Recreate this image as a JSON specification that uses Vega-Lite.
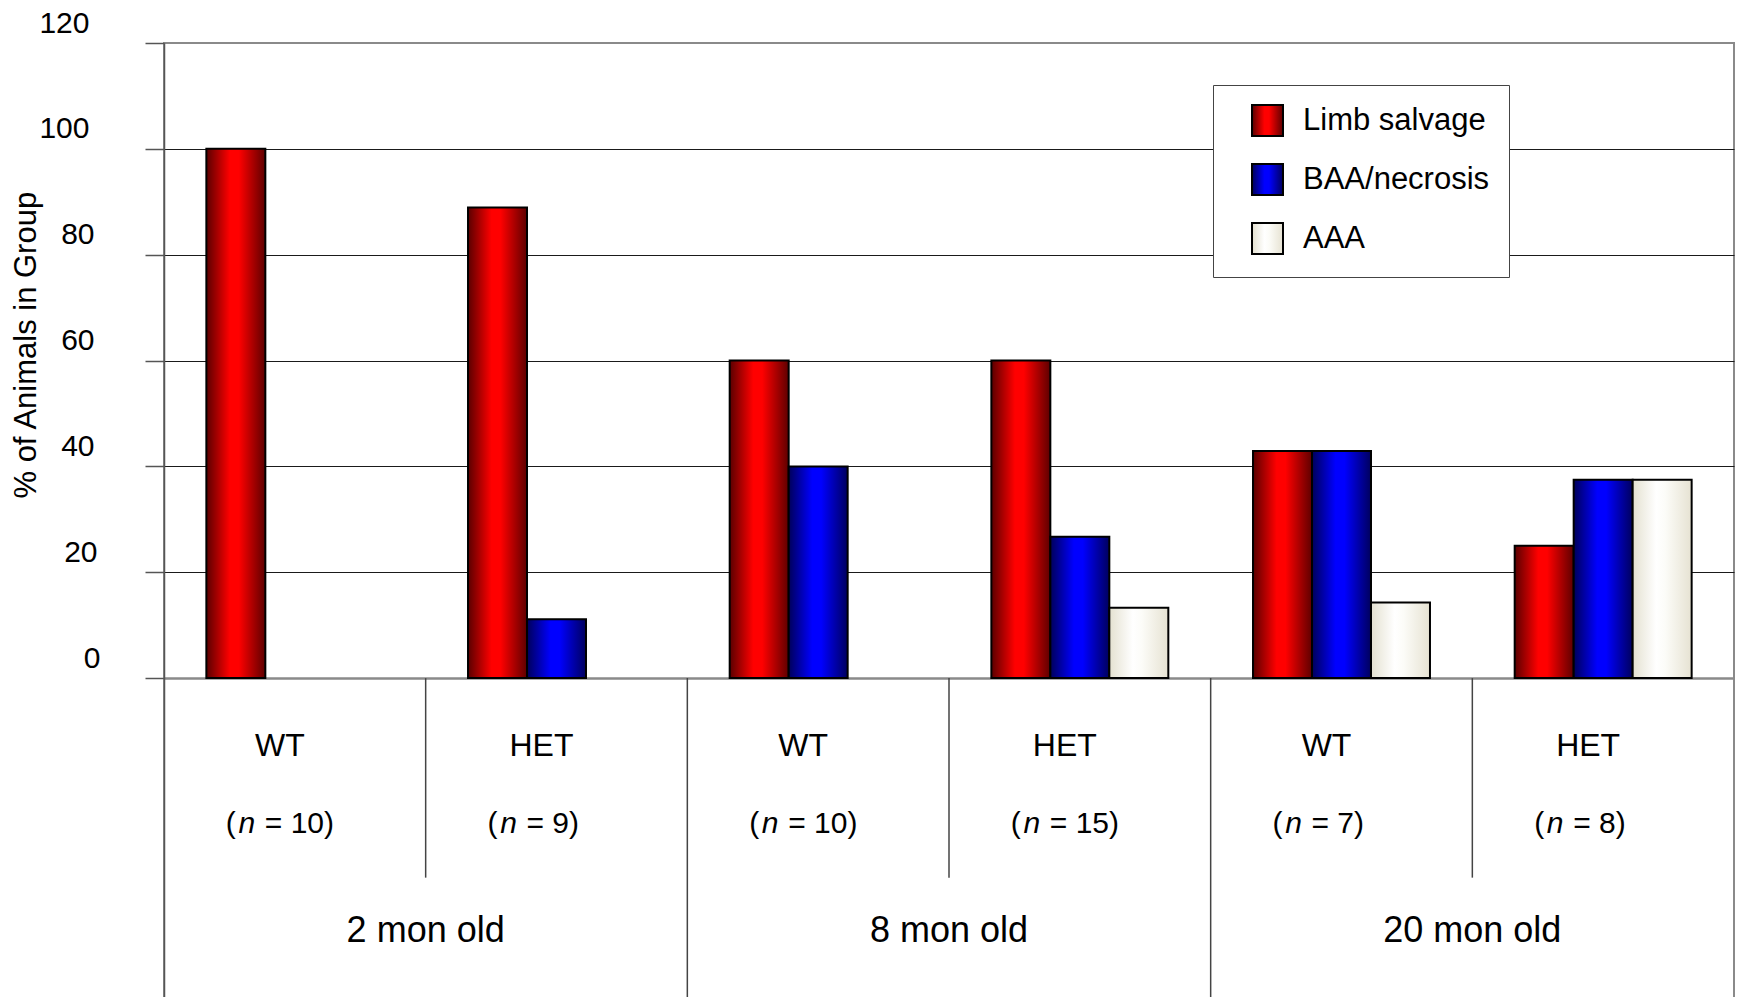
{
  "$schema": "https://vega.github.io/schema/vega-lite/v6.json",
  "width": 1570,
  "height": 955,
  "autosize": {"type": "none"},
  "padding": {"left": 164, "top": 43, "right": 4, "bottom": 0},
  "background": "white",
  "config": {
    "font": "Liberation Sans",
    "view": {"stroke": "#8a8a8a", "strokeWidth": 2},
    "text": {"font": "Liberation Sans", "color": "black"}
  },
  "datasets": {
    "bars": [
      {"cat": "2 WT", "series": "Limb salvage", "pct": 100},
      {"cat": "2 HET", "series": "Limb salvage", "pct": 88.9},
      {"cat": "2 HET", "series": "BAA/necrosis", "pct": 11.1},
      {"cat": "8 WT", "series": "Limb salvage", "pct": 60},
      {"cat": "8 WT", "series": "BAA/necrosis", "pct": 40},
      {"cat": "8 HET", "series": "Limb salvage", "pct": 60},
      {"cat": "8 HET", "series": "BAA/necrosis", "pct": 26.7},
      {"cat": "8 HET", "series": "AAA", "pct": 13.3},
      {"cat": "20 WT", "series": "Limb salvage", "pct": 42.9},
      {"cat": "20 WT", "series": "BAA/necrosis", "pct": 42.9},
      {"cat": "20 WT", "series": "AAA", "pct": 14.3},
      {"cat": "20 HET", "series": "Limb salvage", "pct": 25},
      {"cat": "20 HET", "series": "BAA/necrosis", "pct": 37.5},
      {"cat": "20 HET", "series": "AAA", "pct": 37.5}
    ],
    "groups": [
      {"cat": "2 WT", "age": "2 mon old", "genotype": "WT", "rest": "= 10)"},
      {"cat": "2 HET", "age": "2 mon old", "genotype": "HET", "rest": "= 9)"},
      {"cat": "8 WT", "age": "8 mon old", "genotype": "WT", "rest": "= 10)"},
      {"cat": "8 HET", "age": "8 mon old", "genotype": "HET", "rest": "= 15)"},
      {"cat": "20 WT", "age": "20 mon old", "genotype": "WT", "rest": "= 7)"},
      {"cat": "20 HET", "age": "20 mon old", "genotype": "HET", "rest": "= 8)"}
    ]
  },
  "layer": [
    {
      "data": {"name": "bars"},
      "mark": {"type": "bar", "stroke": "black", "strokeWidth": 2},
      "encoding": {
        "x": {"field": "cat", "type": "nominal", "scale": {"domain": ["2 WT", "2 HET", "8 WT", "8 HET", "20 WT", "20 HET"], "paddingInner": 0, "paddingOuter": 0}, "axis": null},
        "xOffset": {"field": "series", "type": "nominal", "scale": {"domain": ["Limb salvage", "BAA/necrosis", "AAA"], "paddingInner": 0, "paddingOuter": 0.718}},
        "y": {
          "field": "pct", "type": "quantitative",
          "scale": {"domain": [-60.44, 120], "nice": false, "zero": false},
          "axis": {
            "values": [0, 20, 40, 60, 80, 100, 120],
            "title": "% of Animals in Group",
            "titleFont": "Liberation Sans", "titleFontSize": 31, "titleFontWeight": "normal", "titleColor": "black",
            "titleX": -129, "titleY": 301.7, "titleAngle": 270, "titleBaseline": "alphabetic", "titleAlign": "center",
            "labelFont": "Liberation Sans", "labelFontSize": 30, "labelColor": "black", "labelAlign": "right", "labelBaseline": "middle",
            "labelOffset": -20,
            "labelPadding": {"condition": [{"test": "datum.value >= 100", "value": 56}, {"test": "datum.value === 20", "value": 48}, {"test": "datum.value === 0", "value": 45}], "value": 51},
            "labelOverlap": false,
            "tickSize": 19, "tickColor": "#555555", "tickWidth": 1.5,
            "domainColor": "#555555", "domainWidth": 1.5,
            "grid": true,
            "gridColor": {"condition": {"test": "datum.value === 0 || datum.value === 120", "value": "#8a8a8a"}, "value": "#1a1a1a"},
            "gridWidth": {"condition": {"test": "datum.value === 0", "value": 2.5}, "value": 1.2}
          }
        },
        "y2": {"datum": 0},
        "fill": {
          "field": "series", "type": "nominal",
          "scale": {
            "domain": ["Limb salvage", "BAA/necrosis", "AAA"],
            "range": [
              {"expr": "{gradient: 'linear', x1: 0, y1: 0, x2: 1, y2: 0, stops: [{offset: 0, color: '#5a0000'}, {offset: 0.4, color: '#ff0000'}, {offset: 0.55, color: '#ff0000'}, {offset: 1, color: '#5e0000'}]}"},
              {"expr": "{gradient: 'linear', x1: 0, y1: 0, x2: 1, y2: 0, stops: [{offset: 0, color: '#00005a'}, {offset: 0.4, color: '#0000ff'}, {offset: 0.55, color: '#0000ff'}, {offset: 1, color: '#00005e'}]}"},
              {"expr": "{gradient: 'linear', x1: 0, y1: 0, x2: 1, y2: 0, stops: [{offset: 0, color: '#e4e1d0'}, {offset: 0.4, color: '#ffffff'}, {offset: 0.55, color: '#fcfcf8'}, {offset: 1, color: '#e6e2d2'}]}"}
            ]
          },
          "legend": {
            "orient": "none", "legendX": 1049, "legendY": 42,
            "title": "\u2003",
            "titleOrient": "right", "titleFontSize": 27, "titlePadding": 0,
            "padding": 19, "symbolOffset": 19,
            "symbolType": "square", "symbolSize": 961,
            "symbolStrokeColor": "black", "symbolStrokeWidth": 2,
            "labelFont": "Liberation Sans", "labelFontSize": 31, "labelColor": "black", "labelOffset": 19, "labelLimit": 400,
            "rowPadding": 20,
            "strokeColor": "#444444", "fillColor": "white"
          }
        }
      }
    },
    {
      "data": {"name": "groups"},
      "mark": {"type": "rule", "stroke": "#444444", "strokeWidth": 1.5},
      "transform": [{"filter": "datum.genotype === 'HET'"}],
      "encoding": {
        "x": {"field": "cat", "type": "nominal", "bandPosition": 0, "scale": {"domain": ["2 WT", "2 HET", "8 WT", "8 HET", "20 WT", "20 HET"]}, "axis": null},
        "y": {"datum": 0, "type": "quantitative", "scale": {"domain": [-60.44, 120], "nice": false, "zero": false}},
        "y2": {"datum": -37.7}
      }
    },
    {
      "data": {"name": "groups"},
      "mark": {"type": "rule", "stroke": "#444444", "strokeWidth": 1.5},
      "transform": [{"filter": "datum.genotype === 'WT' && datum.age !== '2 mon old'"}],
      "encoding": {
        "x": {"field": "cat", "type": "nominal", "bandPosition": 0, "scale": {"domain": ["2 WT", "2 HET", "8 WT", "8 HET", "20 WT", "20 HET"]}, "axis": null},
        "y": {"datum": 0, "type": "quantitative", "scale": {"domain": [-60.44, 120], "nice": false, "zero": false}},
        "y2": {"datum": -60.44}
      }
    },
    {
      "data": {"name": "groups"},
      "mark": {"type": "text", "fontSize": 32, "align": "center", "baseline": "alphabetic", "dx": -15},
      "encoding": {
        "x": {"field": "cat", "type": "nominal", "scale": {"domain": ["2 WT", "2 HET", "8 WT", "8 HET", "20 WT", "20 HET"]}, "axis": null},
        "y": {"datum": -14.72, "type": "quantitative", "scale": {"domain": [-60.44, 120], "nice": false, "zero": false}},
        "text": {"field": "genotype"}
      }
    },
    {
      "data": {"name": "groups"},
      "mark": {"type": "text", "text": "(", "fontSize": 30, "align": "right", "baseline": "alphabetic", "dx": -59},
      "encoding": {
        "x": {"field": "cat", "type": "nominal", "scale": {"domain": ["2 WT", "2 HET", "8 WT", "8 HET", "20 WT", "20 HET"]}, "axis": null},
        "y": {"datum": -29.2, "type": "quantitative", "scale": {"domain": [-60.44, 120], "nice": false, "zero": false}}
      }
    },
    {
      "data": {"name": "groups"},
      "mark": {"type": "text", "text": "n", "fontSize": 30, "fontStyle": "italic", "align": "center", "baseline": "alphabetic", "dx": -48},
      "encoding": {
        "x": {"field": "cat", "type": "nominal", "scale": {"domain": ["2 WT", "2 HET", "8 WT", "8 HET", "20 WT", "20 HET"]}, "axis": null},
        "y": {"datum": -29.2, "type": "quantitative", "scale": {"domain": [-60.44, 120], "nice": false, "zero": false}}
      }
    },
    {
      "data": {"name": "groups"},
      "mark": {"type": "text", "fontSize": 30, "align": "left", "baseline": "alphabetic", "dx": -30},
      "encoding": {
        "x": {"field": "cat", "type": "nominal", "scale": {"domain": ["2 WT", "2 HET", "8 WT", "8 HET", "20 WT", "20 HET"]}, "axis": null},
        "y": {"datum": -29.2, "type": "quantitative", "scale": {"domain": [-60.44, 120], "nice": false, "zero": false}},
        "text": {"field": "rest"}
      }
    },
    {
      "data": {"name": "groups"},
      "mark": {"type": "text", "fontSize": 36, "align": "center", "baseline": "alphabetic"},
      "transform": [{"filter": "datum.genotype === 'HET'"}],
      "encoding": {
        "x": {"field": "cat", "type": "nominal", "bandPosition": 0, "scale": {"domain": ["2 WT", "2 HET", "8 WT", "8 HET", "20 WT", "20 HET"]}, "axis": null},
        "y": {"datum": -49.86, "type": "quantitative", "scale": {"domain": [-60.44, 120], "nice": false, "zero": false}},
        "text": {"field": "age"}
      }
    }
  ]
}
